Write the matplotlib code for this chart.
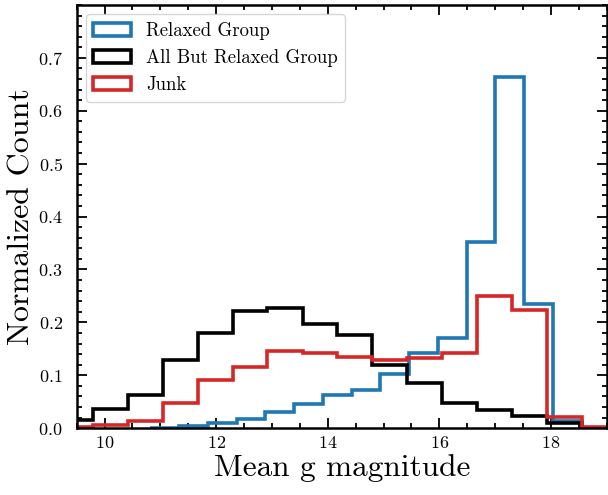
import numpy as np
import matplotlib
matplotlib.use("Agg")
import matplotlib.pyplot as plt

plt.rcParams['font.family'] = 'cmr10'
plt.rcParams['mathtext.fontset'] = 'cm'
plt.rcParams['axes.formatter.use_mathtext'] = True
plt.rcParams['axes.unicode_minus'] = False

# bin edges
edges_relaxed = [10.82, 11.34, 11.85, 12.37, 12.88, 13.40, 13.91, 14.43, 14.94,
                 15.46, 15.97, 16.49, 17.00, 17.52, 18.03, 18.55]
edges_other = [9.165, 9.79, 10.42, 11.04, 11.67, 12.30, 12.92, 13.55, 14.17,
               14.80, 15.42, 16.05, 16.67, 17.30, 17.92, 18.55, 19.17]

# normalized counts per bin
relaxed = [0.001, 0.004, 0.009, 0.018, 0.031, 0.045, 0.063, 0.072, 0.103,
           0.143, 0.171, 0.352, 0.664, 0.234, 0.013]
all_but = [0.016, 0.036, 0.063, 0.129, 0.180, 0.222, 0.228, 0.196, 0.177,
           0.119, 0.086, 0.048, 0.035, 0.023, 0.010, 0.0]
junk = [0.003, 0.006, 0.013, 0.047, 0.091, 0.116, 0.146, 0.142, 0.135,
        0.129, 0.132, 0.143, 0.250, 0.223, 0.021, 0.002]

labels = ['Relaxed Group', 'All But Relaxed Group', 'Junk']
colors = ['#1f77b4', 'black', '#d62728']


def centers(e):
    e = np.asarray(e)
    return (e[:-1] + e[1:]) / 2


fig = plt.figure(figsize=(6.08, 4.95), dpi=100)
ax = fig.add_axes([0.126, 0.135, 0.872, 0.855])

series = [(edges_relaxed, relaxed), (edges_other, all_but), (edges_other, junk)]
for (e, v), lab, c in zip(series, labels, colors):
    ax.hist(centers(e), bins=e, weights=v, histtype='step', lw=2.6,
            color=c, label=lab)

ax.set_xlim(9.5, 19)
ax.set_ylim(0, 0.8)
ax.set_xticks([10, 12, 14, 16, 18])
ax.set_yticks(np.arange(0, 0.71, 0.1))
ax.xaxis.set_minor_locator(matplotlib.ticker.MultipleLocator(0.5))
ax.yaxis.set_minor_locator(matplotlib.ticker.MultipleLocator(0.02))
ax.tick_params(which='both', direction='in', top=True, right=True,
               labelsize=13, width=1.3)
ax.tick_params(which='major', length=7)
ax.tick_params(which='minor', length=3.5)
ax.tick_params(axis='x', which='major', pad=5)
ax.tick_params(axis='y', which='major', pad=10)
for s in ax.spines.values():
    s.set_linewidth(1.8)

ax.set_xlabel('Mean g magnitude', fontsize=22.5, labelpad=2)
ax.set_ylabel('Normalized Count', fontsize=23, labelpad=2)
ax.legend(loc='upper left', fontsize=13.5)

fig.savefig('out.png', dpi=100)
